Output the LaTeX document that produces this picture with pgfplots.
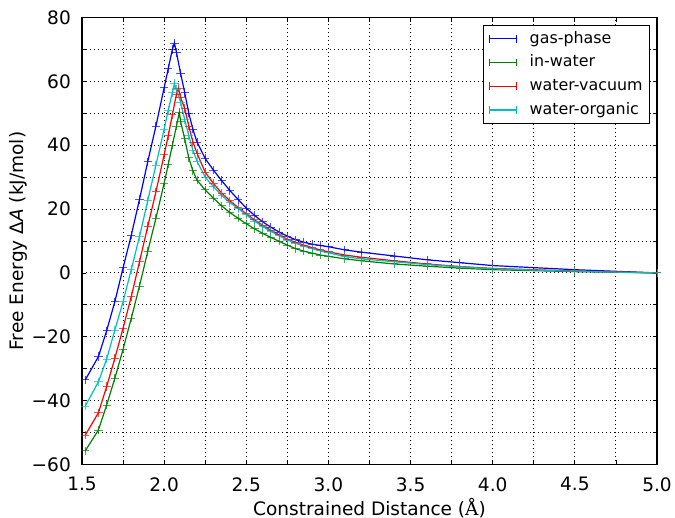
\documentclass[border=0pt]{standalone}
\usepackage{pgfplots}
\pgfplotsset{compat=1.18}
\usepackage{fontspec}
\setmainfont{DejaVu Sans}
\newfontfamily\serifA{DejaVu Serif}

\definecolor{mplblue}{rgb}{0,0,1}
\definecolor{mplgreen}{rgb}{0,0.5,0}
\definecolor{mplred}{rgb}{1,0,0}
\definecolor{mplcyan}{rgb}{0,0.75,0.75}

\begin{document}
\begin{tikzpicture}[font=\fontsize{13.9}{16}\selectfont]
\begin{axis}[
  scale only axis,
  width=431.25pt, height=335.25pt,
  xmin=1.5, xmax=5.0,
  ymin=-60, ymax=80,
  xtick={1.5,2.0,...,5.0},
  minor xtick={1.75,2.25,...,4.75},
  ytick={-60,-40,...,80},
  yticklabels={−60,−40,−20,0,20,40,60,80},
  minor ytick={-50,-30,...,70},
  xticklabel style={inner sep=0pt, yshift=-9.5pt},
  x tick label style={/pgf/number format/fixed, /pgf/number format/fixed zerofill,
    /pgf/number format/precision=1, /pgf/number format/assume math mode=true},
  yticklabel style={inner sep=0pt, xshift=-8.2pt},
  major tick length=3.3pt, minor tick length=3.3pt,
  every tick/.style={black, line width=0.6pt},
  grid=both,
  major grid style={black, line width=0.7pt, dash pattern=on 0.7pt off 2.3pt},
  minor grid style={black, line width=0.7pt, dash pattern=on 0.7pt off 2.3pt},
  axis line style={black, line width=0.8pt},
  xlabel={Constrained Distance ({\serifA Å})},
  ylabel={Free Energy Δ\textit{A} (kJ/mol)},
  xlabel style={at={(axis description cs:0.5,-0.074)}, anchor=north, inner sep=0pt},
  ylabel style={at={(axis description cs:-0.094,0.5)}, anchor=south, inner sep=0pt},
  legend cell align=left,
  legend style={at={(rel axis cs:1,1)}, anchor=north east, xshift=-5.2pt, yshift=-5.6pt,
    draw=black, line width=0.8pt, fill=white, inner xsep=3.6pt, inner ysep=2pt,
    font=\fontsize{11.9}{14}\selectfont,
    row sep=1.8pt, column sep=8pt,
    nodes={inner sep=1.6pt, text height=9.6pt, text depth=3.2pt}},
  legend image code/.code={
    \draw[#1, line width=0.9pt] (0cm,0cm) -- (0.72cm,0cm);
    \draw[#1, line width=0.6pt] (0cm,-0.1cm) -- (0cm,0.1cm) (0.72cm,-0.1cm) -- (0.72cm,0.1cm);
  },
  every axis plot/.append style={line width=0.9pt, mark=+, mark size=3.1pt,
    mark options={solid, line width=0.7pt, opacity=0.7}},
]
\addplot[mplblue] table {
1.52 -33.5
1.60 -26.2
1.65 -18.1
1.70 -9.0
1.75 1.6
1.80 11.8
1.85 23.0
1.90 34.8
1.95 46.0
2.00 58.0
2.025 64.0
2.05 70.0
2.0625 72.0
2.075 69.0
2.10 62.5
2.125 56.5
2.15 50.0
2.175 45.0
2.20 41.0
2.25 35.8
2.30 32.2
2.35 28.9
2.40 25.8
2.45 23.0
2.50 20.3
2.55 18.0
2.60 16.0
2.65 14.3
2.70 12.8
2.75 11.5
2.80 10.4
2.85 9.6
2.90 9.0
2.95 8.6
3.00 8.2
3.10 7.2
3.20 6.5
3.40 5.3
3.60 4.1
3.80 3.2
4.00 2.3
4.50 1.0
5.00 0.0
};
\addlegendentry{gas-phase}
\addplot[mplgreen] table {
1.52 -55.7
1.60 -49.2
1.65 -41.4
1.70 -33.0
1.75 -23.9
1.80 -14.2
1.85 -4.1
1.90 6.7
1.95 17.1
2.00 28.1
2.025 34.0
2.05 40.0
2.075 46.0
2.0925 50.3
2.10 47.5
2.125 42.0
2.15 36.0
2.175 32.0
2.20 29.0
2.25 26.0
2.30 23.4
2.35 21.0
2.40 18.9
2.45 17.1
2.50 15.4
2.55 13.8
2.60 12.4
2.65 11.1
2.70 9.9
2.75 8.7
2.80 7.6
2.85 6.8
2.90 6.2
2.95 5.6
3.00 5.2
3.10 4.4
3.20 3.8
3.40 2.8
3.60 2.1
3.80 1.5
4.00 1.0
4.50 0.4
5.00 0.0
};
\addlegendentry{in-water}
\addplot[mplred] table {
1.52 -50.8
1.60 -43.8
1.65 -35.6
1.70 -26.7
1.75 -17.3
1.80 -7.4
1.85 3.5
1.90 14.5
1.95 25.4
2.00 37.0
2.025 43.0
2.05 49.5
2.075 56.0
2.0875 57.8
2.10 55.0
2.125 51.5
2.15 46.0
2.175 41.0
2.20 37.5
2.25 31.5
2.30 28.0
2.35 25.0
2.40 22.6
2.45 20.5
2.50 18.5
2.55 16.6
2.60 14.9
2.65 13.3
2.70 11.9
2.75 10.5
2.80 9.6
2.85 8.7
2.90 7.9
2.95 7.2
3.00 6.6
3.10 5.6
3.20 4.9
3.40 3.8
3.60 2.8
3.80 2.0
4.00 1.4
4.50 0.6
5.00 0.0
};
\addlegendentry{water-vacuum}
\addplot[mplcyan] table {
1.52 -41.7
1.60 -34.1
1.65 -27.0
1.70 -17.9
1.75 -9.0
1.80 1.1
1.85 11.4
1.90 22.6
1.95 33.8
2.00 45.0
2.025 51.0
2.05 56.5
2.0625 59.3
2.075 57.5
2.10 53.5
2.125 48.0
2.15 43.0
2.175 38.5
2.20 35.0
2.25 30.0
2.30 27.0
2.35 24.3
2.40 22.0
2.45 20.2
2.50 18.2
2.55 16.2
2.60 14.5
2.65 13.0
2.70 11.6
2.75 10.3
2.80 9.3
2.85 8.4
2.90 7.6
2.95 6.9
3.00 6.3
3.10 5.1
3.20 4.4
3.40 3.5
3.60 2.6
3.80 1.9
4.00 1.3
4.50 0.5
5.00 0.0
};
\addlegendentry{water-organic}
\end{axis}
\pgfresetboundingbox
\path[use as bounding box] ([shift={(-61.5pt,-40pt)}]current axis.south west) rectangle ([shift={(13.5pt,13.1pt)}]current axis.north east);
\end{tikzpicture}
\end{document}
